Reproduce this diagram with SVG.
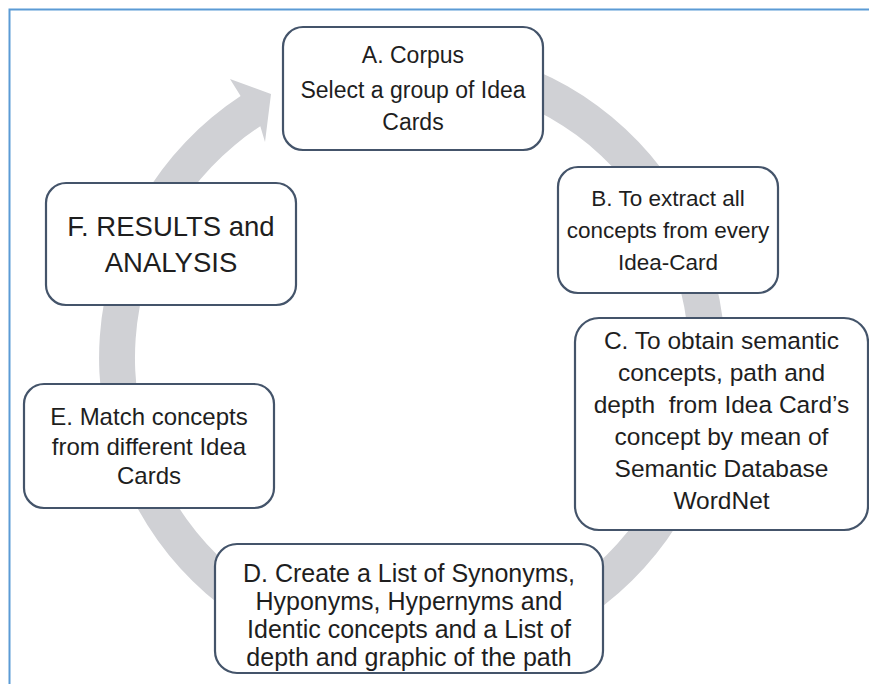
<svg xmlns="http://www.w3.org/2000/svg" width="869" height="684" viewBox="0 0 869 684">
<style>
.node{fill:#ffffff;stroke:#44546a;stroke-width:2.2}
.t{font-family:"Liberation Sans",Arial,sans-serif;fill:#1e1e1e;text-anchor:middle;font-size:24px;white-space:pre}
.ring{fill:#d0d1d5}
.frame{stroke:#5b9bd5;stroke-width:2;fill:none}
</style>
<rect width="869" height="684" fill="#ffffff"/>
<path class="frame" d="M9.5 684 V9.5 H869"/>
<g id="connectors">
<path class="ring" d="M466.4 49.7 A313 313 0 1 1 240.6 96.1 L230 79 L271 94 L265 142 L260.3 126.2 A277 277 0 1 0 460.1 85.2 Z"/>
</g>
<g id="nodeA">
<rect class="node" x="283" y="27" width="260" height="123" rx="20"/>
<text class="t" x="413" y="63" style="font-size:23px">A. Corpus</text>
<text class="t" x="413" y="98" style="font-size:23px">Select a group of Idea</text>
<text class="t" x="413" y="130" style="font-size:23px">Cards</text>
</g>
<g id="nodeB">
<rect class="node" x="558" y="167" width="220" height="126" rx="20"/>
<text class="t" x="668" y="206" style="font-size:22.5px">B. To extract all</text>
<text class="t" x="668" y="238" style="font-size:22.5px">concepts from every</text>
<text class="t" x="668" y="270" style="font-size:22.5px">Idea-Card</text>
</g>
<g id="nodeC">
<rect class="node" x="575" y="318" width="293" height="212" rx="24"/>
<text class="t" x="721.5" y="349" style="font-size:24.5px">C. To obtain semantic</text>
<text class="t" x="721.5" y="381" style="font-size:24.5px">concepts, path and</text>
<text class="t" x="721.5" y="413" style="font-size:24.5px">depth  from Idea Card’s</text>
<text class="t" x="721.5" y="445" style="font-size:24.5px">concept by mean of</text>
<text class="t" x="721.5" y="477" style="font-size:24.5px">Semantic Database</text>
<text class="t" x="721.5" y="509" style="font-size:24.5px">WordNet</text>
</g>
<g id="nodeD">
<rect class="node" x="215" y="544" width="388" height="129" rx="22"/>
<text class="t" x="409" y="582" style="font-size:25px">D. Create a List of Synonyms,</text>
<text class="t" x="409" y="610" style="font-size:25px">Hyponyms, Hypernyms and</text>
<text class="t" x="409" y="638" style="font-size:25px">Identic concepts and a List of</text>
<text class="t" x="409" y="666" style="font-size:25px">depth and graphic of the path</text>
</g>
<g id="nodeE">
<rect class="node" x="24" y="384" width="250" height="124" rx="20"/>
<text class="t" x="149" y="425">E. Match concepts</text>
<text class="t" x="149" y="455">from different Idea</text>
<text class="t" x="149" y="484">Cards</text>
</g>
<g id="nodeF">
<rect class="node" x="46" y="183" width="250" height="122" rx="20"/>
<text class="t" x="171" y="236" style="font-size:27.5px">F. RESULTS and</text>
<text class="t" x="171" y="272" style="font-size:27.5px">ANALYSIS</text>
</g>
</svg>
